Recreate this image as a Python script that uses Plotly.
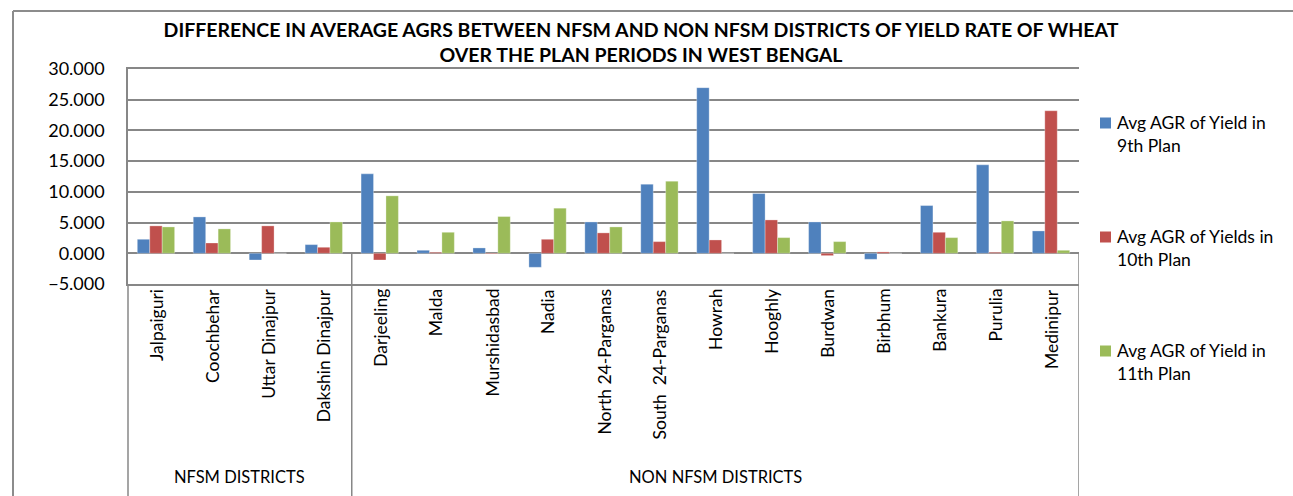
import plotly.graph_objects as go

districts = ["Jalpaiguri", "Coochbehar", "Uttar Dinajpur", "Dakshin Dinajpur",
             "Darjeeling", "Malda", "Murshidasbad", "Nadia", "North 24-Parganas",
             "South  24-Parganas", "Howrah", "Hooghly", "Burdwan", "Birbhum",
             "Bankura", "Purulia", "Medinipur"]
groups = ["NFSM DISTRICTS", "NON NFSM DISTRICTS"]
group_sizes = [4, 13]

plan9 = [2.28, 5.92, -1.09, 1.41, 12.93, 0.49, 0.87, -2.28, 5.10, 11.25,
         26.96, 9.73, 5.10, -0.98, 7.77, 14.40, 3.64]
plan10 = [4.46, 1.68, 4.46, 0.98, -1.09, 0.16, -0.10, 2.28, 3.32, 1.90,
          2.17, 5.43, -0.38, 0.22, 3.42, 0.16, 23.20]
plan11 = [4.29, 3.97, 0.0, 5.10, 9.35, 3.42, 5.98, 7.34, 4.29, 11.74,
          0.0, 2.55, 1.90, 0.0, 2.55, 5.27, 0.49]

series_names = ["Avg AGR of Yield in<br>9th Plan",
                "Avg AGR of Yields in<br>10th Plan",
                "Avg AGR of Yield in<br>11th Plan"]
colors = ["#4F81BD", "#C0504D", "#9BBB59"]

FONT = "Lato, sans-serif"
GRID = "#878787"

# plot area in pixels (for helper conversions)
L, R, T, B = 128, 1079, 69, 284


def px_x(px):
    return (px - L) / (R - L)


def px_y(py):
    return (B - py) / (B - T)


x_idx = list(range(len(districts)))
fig = go.Figure()
for name, vals, col in zip(series_names, [plan9, plan10, plan11], colors):
    fig.add_trace(go.Bar(x=x_idx, y=vals, name=name, showlegend=False,
                         marker=dict(color=col, line=dict(color="rgba(255,255,255,0.6)", width=0.5))))

shapes = []
annotations = []
shapes.append(dict(type="line", xref="paper", yref="paper", x0=0, x1=0, y0=0, y1=-1.05,
                   line=dict(color=GRID, width=1.5)))
zero_p = 5 / 35
shapes.append(dict(type="line", xref="x", yref="paper", x0=len(districts) - 0.5, x1=len(districts) - 0.5,
                   y0=zero_p, y1=-1.05, line=dict(color=GRID, width=1.5)))
start = 0
for g, n in zip(groups, group_sizes):
    end = start + n
    if end < len(districts):
        shapes.append(dict(type="line", xref="x", yref="paper", x0=end - 0.5, x1=end - 0.5,
                           y0=zero_p, y1=-1.05, line=dict(color=GRID, width=1.5)))
    annotations.append(dict(text=g, xref="x", yref="paper", x=(start + end - 1) / 2, y=px_y(477),
                            showarrow=False, font=dict(family=FONT, size=16.5, color="#000"),
                            xanchor="center", yanchor="middle"))
    start = end
for i, d in enumerate(districts):
    annotations.append(dict(text=d, xref="x", yref="paper", x=i, y=px_y(287), textangle=-90,
                            showarrow=False, font=dict(family=FONT, size=17.5, color="#000"),
                            xanchor="center", yanchor="top"))
leg_line1 = [123, 237, 351]
for name, col, yc in zip(series_names, colors, leg_line1):
    shapes.append(dict(type="rect", xref="paper", yref="paper",
                       x0=px_x(1100), x1=px_x(1111), y0=px_y(yc - 5.5), y1=px_y(yc + 5.5),
                       fillcolor=col, line=dict(width=0)))
    annotations.append(dict(text=name, xref="paper", yref="paper", x=px_x(1115), y=px_y(yc - 13),
                            xanchor="left", yanchor="top", align="left", showarrow=False,
                            font=dict(family=FONT, size=17.5, color="#000")))
shapes.append(dict(type="line", xref="paper", yref="paper", x0=px_x(13), x1=px_x(1300), y0=px_y(11), y1=px_y(11),
                   line=dict(color="#8c8c8c", width=2)))
shapes.append(dict(type="line", xref="paper", yref="paper", x0=px_x(13), x1=px_x(13), y0=px_y(11), y1=px_y(510),
                   line=dict(color="#8c8c8c", width=2)))

fig.update_layout(
    width=1293, height=496,
    margin=dict(l=L, r=1293 - R, t=T, b=496 - B),
    paper_bgcolor="white", plot_bgcolor="white",
    barmode="group", bargap=0.333, bargroupgap=0,
    showlegend=False,
    title=dict(text="<b>DIFFERENCE IN AVERAGE AGRS BETWEEN NFSM AND NON NFSM DISTRICTS OF YIELD RATE OF WHEAT<br>OVER THE PLAN PERIODS IN WEST BENGAL</b>",
               x=641 / 1293, xanchor="center", xref="container",
               y=1 - 37 / 496, yanchor="middle", yref="container",
               font=dict(family=FONT, size=19.5, color="#000")),
    xaxis=dict(range=[-0.5, len(districts) - 0.5], showticklabels=False, showgrid=False,
               zeroline=False, showline=True, mirror=True, linecolor=GRID, linewidth=1.5, ticks=""),
    yaxis=dict(range=[-5, 30], dtick=5, tickformat=".3f", showgrid=True, gridcolor=GRID, gridwidth=1.5,
               zeroline=True, zerolinecolor=GRID, zerolinewidth=1.5, showline=True, linecolor=GRID,
               linewidth=1.5, ticks="", ticklabelstandoff=18,
               tickfont=dict(family=FONT, size=18, color="#000")),
    shapes=shapes, annotations=annotations,
)
fig.write_html("out.html")
